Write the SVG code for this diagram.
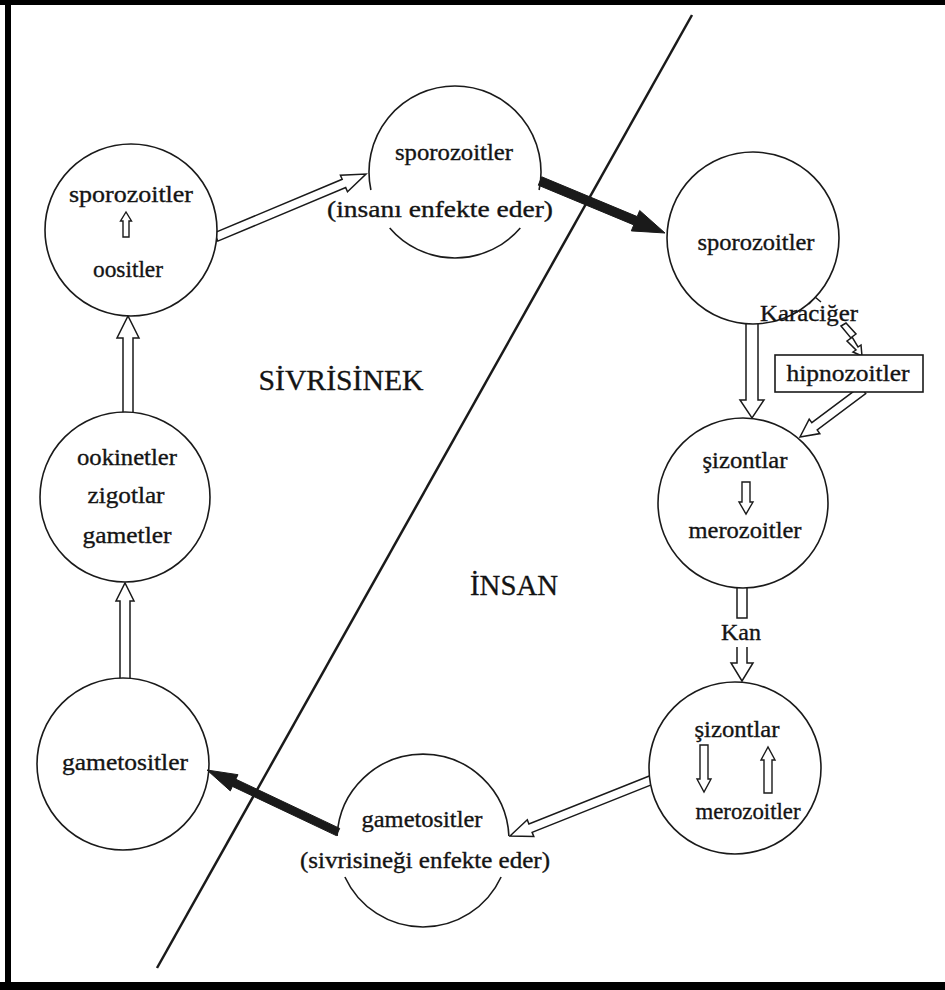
<svg xmlns="http://www.w3.org/2000/svg" width="945" height="990" viewBox="0 0 945 990">
<style>
.c{fill:#fff;stroke:#1a1a1a;stroke-width:1.6}
.arc{fill:none;stroke:#1a1a1a;stroke-width:1.6}
.w{fill:#fff;stroke:none}
.h{fill:#fff;stroke:#1a1a1a;stroke-width:1.5;stroke-linejoin:miter}
.b{fill:#1a1a1a;stroke:#1a1a1a;stroke-width:1}
.ln{fill:none;stroke:#1a1a1a;stroke-width:1.5}
text{font-family:"Liberation Serif","Times New Roman",serif;font-size:24px;fill:#141414;stroke:#141414;stroke-width:0.35;text-anchor:middle}
.big{font-size:29px;stroke-width:0.3}
</style>
<rect x="0" y="0" width="945" height="990" fill="#fff"/>
<g id="frame">
<rect x="5" y="0" width="6" height="990" fill="#000"/>
<rect x="0" y="0" width="945" height="5" fill="#000"/>
<rect x="0" y="982" width="945" height="8" fill="#000"/>
</g>
<line id="divider" x1="692" y1="15" x2="157" y2="968" stroke="#1a1a1a" stroke-width="2.5"/>
<g id="connectors">
<polygon class="h" points="214.2,232.9 342.2,179.3 340.4,175.2 366,174 347.5,191.7 345.7,187.6 217.8,241.1"/>
<polygon class="h" points="746,320 746,400 740,400 752,418 764,400 758,400 758,320"/>
<polygon class="h" points="860.3,386.4 811.8,422.7 809.2,419.1 800,437 819.8,433.6 817.2,430 865.7,393.6"/>
<polygon class="h" points="841,326 851,338 847,341 856,350 853,352 862,356 861,345 858,347 852,337 856,334 846,323"/>
<polyline class="ln" points="809,304 815,297 821,302"/>
<polyline class="ln" points="737,586 737,618 747,618 747,586"/>
<polyline class="h" points="737,647 737,663 731,663 742,681 753,663 747,663 747,647"/>
<polygon class="h" points="652.4,774.8 528.9,823.9 527.3,819.7 510,836 533.8,836.5 532.1,832.3 655.6,783.2"/>
<polygon class="h" points="120,680 120,601 116,601 125,583 134,601 130,601 130,680"/>
<polygon class="h" points="123,415 123,338 117,338 128,316 139,338 133,338 133,415"/>
</g>
<g id="n1">
<circle class="c" cx="131" cy="230" r="86"/>
<text x="131" y="202" textLength="124" lengthAdjust="spacingAndGlyphs">sporozoitler</text>
<polygon class="h" points="123,237 123,221 120.5,221 126,212 131.5,221 129,221 129,237" style="stroke-width:1.4"/>
<text x="128" y="277" textLength="70" lengthAdjust="spacingAndGlyphs">oositler</text>
</g>
<g id="n2">
<circle class="w" cx="455" cy="172" r="86"/>
<path class="arc" d="M370.9,190 A86,86 0 1 1 539.1,190 M520.3,228 A86,86 0 0 1 389.7,228"/>
<text x="454" y="160" textLength="118" lengthAdjust="spacingAndGlyphs">sporozoitler</text>
<text x="440" y="217" textLength="226" lengthAdjust="spacingAndGlyphs">(insanı enfekte eder)</text>
</g>
<g id="n3">
<circle class="c" cx="753" cy="238" r="86"/>
<text x="756" y="250" textLength="117" lengthAdjust="spacingAndGlyphs">sporozoitler</text>
</g>
<g id="karaciger">
<text x="809" y="321" textLength="98" lengthAdjust="spacingAndGlyphs">Karaciğer</text>
</g>
<g id="hipnozoitler">
<rect x="775" y="355" width="148" height="37" fill="#fff" stroke="#1a1a1a" stroke-width="1.6"/>
<text x="848" y="381" textLength="123" lengthAdjust="spacingAndGlyphs">hipnozoitler</text>
</g>
<g id="n4">
<circle class="c" cx="743" cy="503" r="85"/>
<text x="745" y="468" textLength="85" lengthAdjust="spacingAndGlyphs">şizontlar</text>
<polygon class="h" points="742,482 742,502 739,502 746,514 753,502 750,502 750,482" style="stroke-width:1.4"/>
<text x="745" y="538" textLength="113" lengthAdjust="spacingAndGlyphs">merozoitler</text>
</g>
<g id="kan">
<text x="741" y="640" textLength="40" lengthAdjust="spacingAndGlyphs">Kan</text>
</g>
<g id="n5">
<circle class="c" cx="735" cy="768" r="86"/>
<text x="737" y="737" textLength="85" lengthAdjust="spacingAndGlyphs">şizontlar</text>
<polygon class="h" points="700,745 700,779 697,779 704,792 711,779 708,779 708,745" style="stroke-width:1.4"/>
<polygon class="h" points="764,793 764,760 761,760 768,747 775,760 772,760 772,793" style="stroke-width:1.4"/>
<text x="748" y="819" textLength="105" lengthAdjust="spacingAndGlyphs">merozoitler</text>
</g>
<g id="n6">
<circle class="w" cx="423" cy="841" r="86"/>
<path class="arc" d="M337.1,836 A86,86 0 0 1 508.9,836 M501.1,877 A86,86 0 0 1 344.9,877"/>
<text x="422" y="827" textLength="121" lengthAdjust="spacingAndGlyphs">gametositler</text>
<text x="425" y="868" textLength="250" lengthAdjust="spacingAndGlyphs">(sivrisineği enfekte eder)</text>
</g>
<g id="n7">
<circle class="c" cx="123" cy="764" r="86"/>
<text x="125" y="770" textLength="126" lengthAdjust="spacingAndGlyphs">gametositler</text>
</g>
<g id="n8">
<circle class="c" cx="125" cy="497" r="85"/>
<text x="127" y="465" textLength="100" lengthAdjust="spacingAndGlyphs">ookinetler</text>
<text x="126" y="503" textLength="77" lengthAdjust="spacingAndGlyphs">zigotlar</text>
<text x="127" y="543" textLength="89" lengthAdjust="spacingAndGlyphs">gametler</text>
</g>
<g id="black-arrows">
<polygon class="b" points="541.7,176.8 637.2,216.6 639.7,210.5 665,233 631.3,230.9 633.8,224.9 538.3,185.2"/>
<polygon class="b" points="336.3,835.6 232.4,786.4 230.3,790.9 207,770 238,774.7 235.8,779.2 339.7,828.4"/>
</g>
<g id="labels">
<text class="big" x="341" y="390" textLength="165" lengthAdjust="spacingAndGlyphs">SİVRİSİNEK</text>
<text class="big" x="514" y="595" textLength="88" lengthAdjust="spacingAndGlyphs">İNSAN</text>
</g>
</svg>
